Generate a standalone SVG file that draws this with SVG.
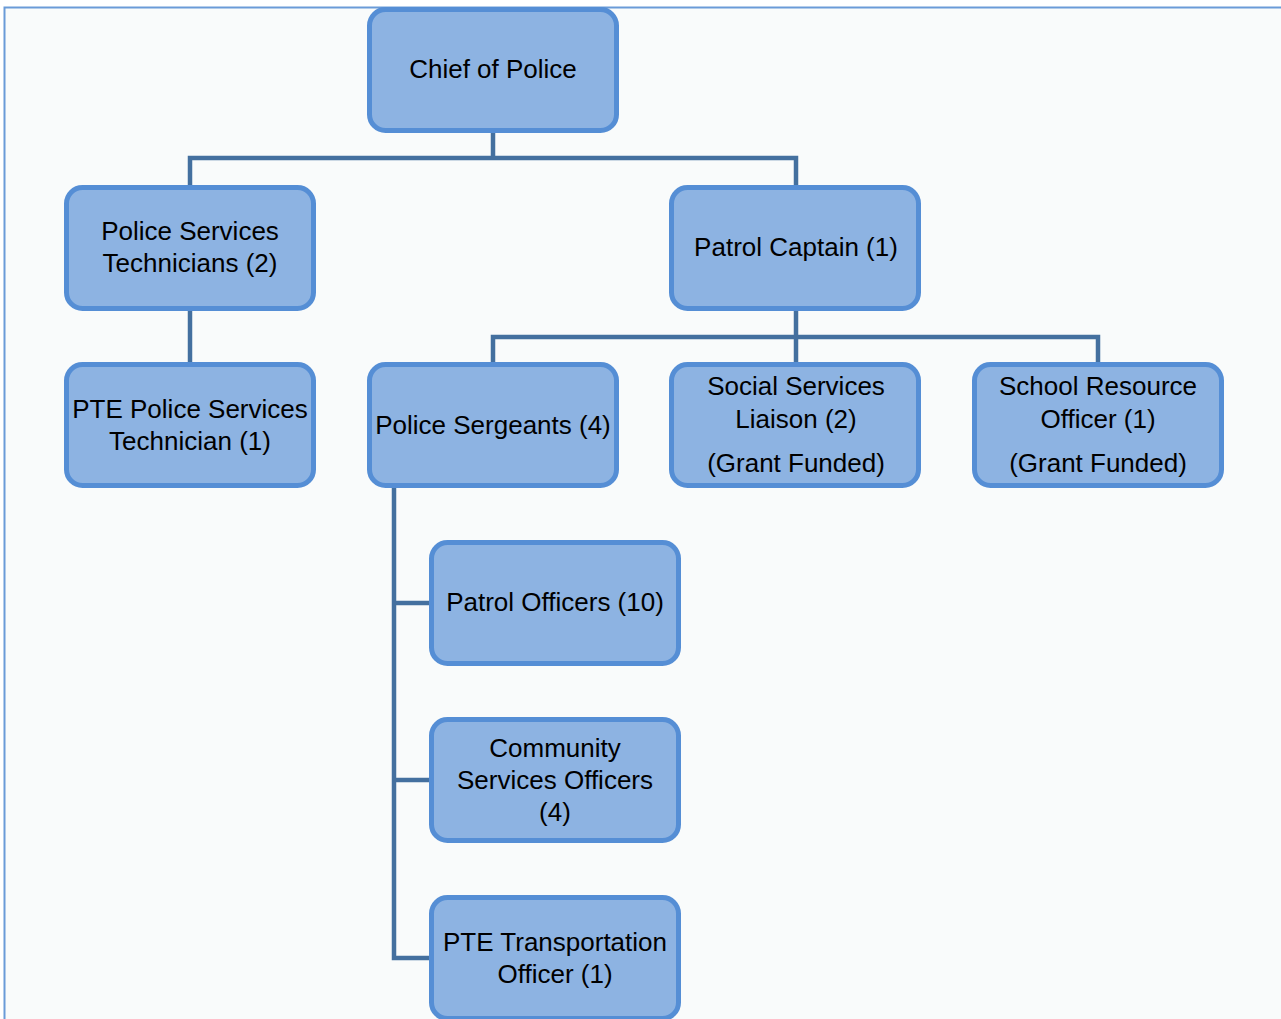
<svg xmlns="http://www.w3.org/2000/svg" width="1281" height="1019" viewBox="0 0 1281 1019">
<style>
.box{fill:#8db3e2;stroke:#558ed5;stroke-width:5}
.lbl{font-family:"Liberation Sans",Arial,sans-serif;font-size:26px;fill:#000;text-anchor:middle}
.con{fill:none;stroke:#44709f;stroke-width:4.5;stroke-linejoin:miter}
</style>
<rect x="0" y="0" width="1281" height="1019" fill="#ffffff"/>
<rect x="4.5" y="7.5" width="1290" height="1030" fill="#f9fbfb" stroke="#6a9bd8" stroke-width="2"/>
<g id="connectors">
<path class="con" d="M493 133V158M190 185V158H796V185"/>
<path class="con" d="M190 311V362"/>
<path class="con" d="M796 311V337M493 362V337H1098V362M796 337V362"/>
<path class="con" d="M394 488V958H429M394 603H429M394 780H429"/>
</g>
<g id="chief"><rect class="box" x="369.5" y="9.5" width="247" height="121" rx="16"/><text class="lbl" x="493" y="78">Chief of Police</text></g>
<g id="pst"><rect class="box" x="66.5" y="187.5" width="247" height="121" rx="16"/><text class="lbl" x="190" y="240">Police Services</text><text class="lbl" x="190" y="272">Technicians (2)</text></g>
<g id="captain"><rect class="box" x="671.5" y="187.5" width="247" height="121" rx="16"/><text class="lbl" x="796" y="256">Patrol Captain (1)</text></g>
<g id="ptepst"><rect class="box" x="66.5" y="364.5" width="247" height="121" rx="16"/><text class="lbl" x="190" y="418">PTE Police Services</text><text class="lbl" x="190" y="450">Technician (1)</text></g>
<g id="sergeants"><rect class="box" x="369.5" y="364.5" width="247" height="121" rx="16"/><text class="lbl" x="493" y="434">Police Sergeants (4)</text></g>
<g id="ssl"><rect class="box" x="671.5" y="364.5" width="247" height="121" rx="16"/><text class="lbl" x="796" y="395">Social Services</text><text class="lbl" x="796" y="428">Liaison (2)</text><text class="lbl" x="796" y="472">(Grant Funded)</text></g>
<g id="sro"><rect class="box" x="974.5" y="364.5" width="247" height="121" rx="16"/><text class="lbl" x="1098" y="395">School Resource</text><text class="lbl" x="1098" y="428">Officer (1)</text><text class="lbl" x="1098" y="472">(Grant Funded)</text></g>
<g id="patrol"><rect class="box" x="431.5" y="542.5" width="247" height="121" rx="16"/><text class="lbl" x="555" y="611">Patrol Officers (10)</text></g>
<g id="cso"><rect class="box" x="431.5" y="719.5" width="247" height="121" rx="16"/><text class="lbl" x="555" y="757">Community</text><text class="lbl" x="555" y="789">Services Officers</text><text class="lbl" x="555" y="821">(4)</text></g>
<g id="pte-transport"><rect class="box" x="431.5" y="897.5" width="247" height="121" rx="16"/><text class="lbl" x="555" y="951">PTE Transportation</text><text class="lbl" x="555" y="983">Officer (1)</text></g>
</svg>
